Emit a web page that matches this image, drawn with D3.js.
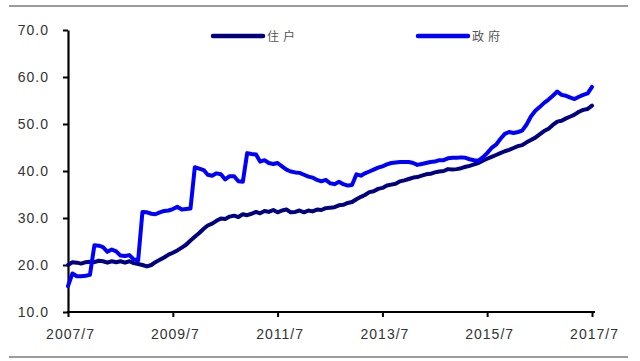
<!DOCTYPE html>
<html>
<head>
<meta charset="utf-8">
<title>住户与政府</title>
<style>
  body { margin: 0; background: #fff; }
  svg text { font-family: "Liberation Sans", Arial, sans-serif; }
</style>
</head>
<body>
<script src="https://cdn.jsdelivr.net/npm/d3@7/dist/d3.min.js"></script>
<script>
var width = 640, height = 361;

// 数据：2007/7 起的月度数据
var startMonth = "2007/7";
var seriesNames = ["住户", "政府"];
var seriesColors = ["#000080", "#0000ff"];
var xTickLabels = ["2007/7", "2009/7", "2011/7", "2013/7", "2015/7", "2017/7"];
var yTicks = [10, 20, 30, 40, 50, 60, 70];

var household = [
  20.0, 20.6, 20.5, 20.3, 20.6, 20.7, 20.6, 20.9, 20.8, 20.5,
  20.8, 20.6, 20.8, 20.5, 20.8, 20.4, 20.2, 20.0, 19.7, 20.0,
  20.6, 21.1, 21.6, 22.2, 22.6, 23.1, 23.7, 24.3, 25.2, 26.0,
  26.8, 27.7, 28.4, 28.8, 29.4, 29.9, 29.8, 30.3, 30.5, 30.2,
  30.8, 30.6, 30.9, 31.3, 31.0, 31.5, 31.3, 31.7, 31.2, 31.6,
  31.8, 31.2, 31.3, 31.6, 31.2, 31.6, 31.4, 31.8, 31.7, 32.1,
  32.2, 32.3, 32.7, 32.8, 33.2, 33.4, 34.0, 34.5, 34.9, 35.5,
  35.7, 36.2, 36.4, 36.9, 37.1, 37.3, 37.8, 38.0, 38.3, 38.6,
  38.7, 39.0, 39.3, 39.4, 39.7, 39.9, 40.0, 40.4, 40.3, 40.4,
  40.6, 40.9, 41.1, 41.4, 41.7, 42.2, 42.6, 43.0, 43.4, 43.8,
  44.2, 44.5, 44.9, 45.3, 45.5, 46.1, 46.6, 47.1, 47.8, 48.5,
  49.0, 49.8, 50.5, 50.7, 51.2, 51.6, 52.0, 52.6, 53.0, 53.2,
  53.9
];

var government = [
  15.5, 18.2, 17.6, 17.6, 17.7, 17.9, 24.2, 24.1, 23.8, 22.8,
  23.3, 22.9, 22.0, 21.9, 22.1, 21.2, 21.0, 31.3, 31.2, 30.9,
  30.8, 31.2, 31.5, 31.6, 31.9, 32.4, 31.8, 31.9, 32.0, 40.8,
  40.5, 40.2, 39.2, 39.0, 39.5, 39.3, 38.2, 38.9, 38.9, 37.8,
  37.7, 43.8, 43.6, 43.5, 42.0, 42.3, 41.7, 41.5, 41.7, 41.0,
  40.3, 39.9, 39.7, 39.6, 39.2, 38.8, 38.6, 38.1, 37.8, 38.1,
  37.4, 37.2, 37.7, 37.2, 36.9, 37.0, 39.3, 39.0, 39.5, 39.9,
  40.3, 40.7, 41.0, 41.4, 41.7, 41.8, 41.9, 41.9, 41.9, 41.7,
  41.3, 41.5, 41.7, 41.9, 42.0, 42.3, 42.3, 42.7, 42.8, 42.8,
  42.9, 42.8, 42.5, 42.3, 42.2, 42.9, 43.8, 44.9, 45.6, 46.8,
  47.9, 48.3, 48.1, 48.3, 48.6, 49.9, 51.6, 52.8, 53.6, 54.5,
  55.2, 56.0, 56.9, 56.2, 56.0, 55.6, 55.3, 55.8, 56.2, 56.5,
  57.9
];

var parseMonth = d3.timeParse("%Y/%m");
var start = parseMonth(startMonth);
var monthOf = function(i){ return d3.timeMonth.offset(start, i); };

var svg = d3.select("body").append("svg")
    .attr("width", width)
    .attr("height", height);

// 上下边框线
svg.append("line").attr("x1", 9).attr("x2", 628).attr("y1", 6).attr("y2", 6)
    .attr("stroke", "#7a7a7a").attr("stroke-width", 1.5);
svg.append("line").attr("x1", 9).attr("x2", 628).attr("y1", 357).attr("y2", 357)
    .attr("stroke", "#7a7a7a").attr("stroke-width", 1.5);

var x = d3.scaleTime()
    .domain([start, parseMonth("2017/7")])
    .range([68, 592]);
var y = d3.scaleLinear()
    .domain([10, 70])
    .range([312, 30]);

// y 轴
var yAxis = svg.append("g")
    .attr("transform", "translate(68,0)")
    .call(d3.axisLeft(y).tickValues(yTicks).tickFormat(d3.format(".1f"))
        .tickSize(5).tickSizeOuter(0).tickPadding(14));
yAxis.select(".domain").attr("stroke", "#000").attr("stroke-width", 2.2);
yAxis.selectAll(".tick line").attr("stroke", "#000").attr("stroke-width", 2);
yAxis.selectAll("text").attr("font-size", 14).attr("fill", "#333")
    .attr("letter-spacing", "1px").attr("font-family", "Liberation Sans, Arial, sans-serif");

// x 轴
var xAxis = svg.append("g")
    .attr("transform", "translate(0,312)")
    .call(d3.axisBottom(x).tickValues(xTickLabels.map(parseMonth))
        .tickFormat(d3.timeFormat("%Y/%-m")).tickSize(5).tickSizeOuter(0).tickPadding(12));
xAxis.select(".domain").remove();
xAxis.append("line").attr("x1", 67).attr("x2", 595).attr("y1", 0).attr("y2", 0)
    .attr("stroke", "#000").attr("stroke-width", 2.2);
xAxis.selectAll(".tick line").attr("stroke", "#000").attr("stroke-width", 2);
xAxis.selectAll("text").attr("font-size", 14).attr("fill", "#333")
    .attr("letter-spacing", "1px").attr("font-family", "Liberation Sans, Arial, sans-serif")
    .attr("dx", "2px");

// 折线
var line = d3.line()
    .x(function(d, i){ return x(monthOf(i)); })
    .y(function(d){ return y(d); });

[household, government].forEach(function(s, k){
  svg.append("path")
      .datum(s)
      .attr("d", line)
      .attr("fill", "none")
      .attr("stroke", seriesColors[k])
      .attr("stroke-width", 4)
      .attr("stroke-linejoin", "round")
      .attr("stroke-linecap", "round");
});

// 图例
var legendX = [213, 418];
var legend = svg.selectAll(".legend")
    .data(seriesNames)
    .enter()
    .append("g")
    .attr("class", "legend")
    .attr("transform", function(d, i){ return "translate(" + legendX[i] + ",36)"; });
legend.append("line")
    .attr("x1", 0).attr("x2", 50).attr("y1", 0).attr("y2", 0)
    .attr("stroke", function(d, i){ return seriesColors[i]; })
    .attr("stroke-width", 4.5)
    .attr("stroke-linecap", "round");
legend.append("text")
    .attr("x", 54)
    .attr("y", 4.5)
    .attr("font-size", 12)
    .attr("letter-spacing", "4px")
    .attr("fill", "#555")
    .style("font-family", "'Noto Sans CJK SC', sans-serif")
    .text(function(d){ return d; });
</script>
</body>
</html>
